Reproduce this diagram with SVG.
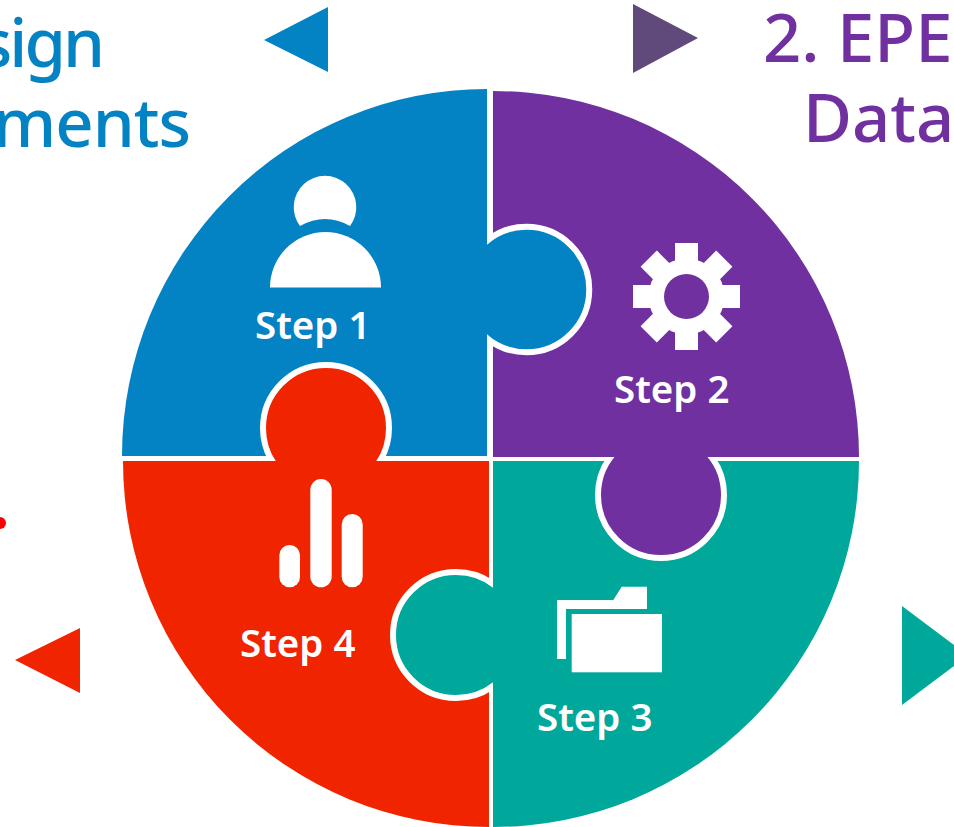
<svg xmlns="http://www.w3.org/2000/svg" width="954" height="827" viewBox="0 0 954 827">
<style>
.blue{fill:#0382c4}.purple{fill:#7030a0}.teal{fill:#00a79b}.red{fill:#f12400}
.bump{stroke:#fff;stroke-width:6}
.icon{fill:#fff}
.step{font-family:"Noto Sans","Open Sans",sans-serif;font-size:38.500px;font-weight:600;fill:#fff}
.title{font-family:"Noto Sans","Open Sans",sans-serif;font-size:67px;font-weight:500}
</style>
<defs>
<clipPath id="clip-right-of-blue"><rect x="487" y="200" width="130" height="180"/></clipPath>
<clipPath id="clip-below-purple"><rect x="580" y="457" width="160" height="120"/></clipPath>
<clipPath id="clip-left-of-teal"><rect x="370" y="550" width="123" height="170"/></clipPath>
<clipPath id="clip-above-red"><rect x="240" y="340" width="170" height="121"/></clipPath>
</defs>
<rect width="954" height="827" fill="#fff"/>
<g id="title-1">
<text class="title blue" x="102" y="67" text-anchor="end" letter-spacing="-3">sign</text>
<text class="title blue" x="190" y="147" text-anchor="end" letter-spacing="-1">ments</text>
</g>
<g id="title-2">
<text class="title purple" x="763" y="62">2. EPE</text>
<text class="title purple" x="803" y="142">Data:</text>
</g>
<circle id="red-dot" cx="0" cy="523" r="6" fill="#f00"/>
<g id="arrows">
<polygon class="blue" points="264,40 328,7 328,72"/>
<polygon fill="#604a7b" points="633,4 698,38 633,73"/>
<polygon class="red" points="15,660 80,628 80,693"/>
<polygon class="teal" points="902,606 968,655.500 902,705"/>
</g>
<g id="step-1">
<path class="blue" d="M487,456H122A365,367 0 0 1 487,89Z"/>
</g>
<g id="step-2">
<path class="purple" d="M493,457V91A366,366 0 0 1 859,457Z"/>
</g>
<g id="step-3">
<path class="teal" d="M493,461H859A366,366 0 0 1 493,827Z"/>
</g>
<g id="step-4">
<path class="red" d="M489,461V827A366,366 0 0 1 123,461Z"/>
</g>
<g id="connectors">
<circle class="blue bump" cx="526.500" cy="289.500" r="62.750" clip-path="url(#clip-right-of-blue)"/>
<circle class="purple bump" cx="661" cy="495" r="63" clip-path="url(#clip-below-purple)"/>
<circle class="teal bump" cx="456" cy="635" r="63" clip-path="url(#clip-left-of-teal)"/>
<circle class="red bump" cx="326" cy="428" r="63" clip-path="url(#clip-above-red)"/>
</g>
<g id="icon-1" class="icon">
<path d="M300,226A31.300,31.300 0 1 1 350,226Q325,212 300,226Z"/>
<path d="M270,287.500A55.500,55.500 0 0 1 381,287.500Z"/>
<text class="step" x="255" y="339">Step 1</text>
</g>
<g id="icon-2" class="icon">
<circle cx="686.500" cy="296.500" r="38"/>
<g transform="translate(686.500 296.500)">
<rect x="-11.500" y="-53.500" width="23" height="107"/>
<rect x="-11.500" y="-53.500" width="23" height="107" transform="rotate(45)"/>
<rect x="-11.500" y="-53.500" width="23" height="107" transform="rotate(90)"/>
<rect x="-11.500" y="-53.500" width="23" height="107" transform="rotate(135)"/>
</g>
<circle class="purple" cx="686.500" cy="296.500" r="22.500"/>
<text class="step" x="614" y="403">Step 2</text>
</g>
<g id="icon-3" class="icon">
<rect x="571.700" y="614" width="90.300" height="58.300"/>
<polygon points="557,600 613.300,600 621.700,586.700 647,586.700 647,609 566,609 566,659 557,659"/>
<text class="step" x="537" y="731">Step 3</text>
</g>
<g id="icon-4" class="icon">
<rect x="279.300" y="545" width="20.700" height="42.300" rx="10.300"/>
<rect x="310.300" y="479" width="21.400" height="108.300" rx="10.700"/>
<rect x="341.700" y="514" width="21" height="73.300" rx="10.500"/>
<text class="step" x="240" y="657">Step 4</text>
</g>
</svg>
